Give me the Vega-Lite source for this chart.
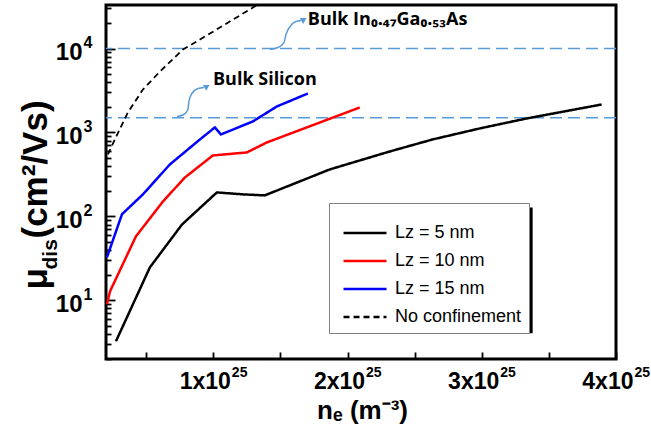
{
  "$schema": "https://vega.github.io/schema/vega-lite/v6.json",
  "width": 510,
  "height": 354,
  "autosize": {"type": "none"},
  "padding": {"left": 106, "top": 5, "right": 35, "bottom": 74},
  "background": "white",
  "config": {
    "view": {"stroke": "black", "strokeWidth": 3},
    "axis": {"grid": false, "domain": false, "tickColor": "black", "tickWidth": 1.8, "labelColor": "black", "titleColor": "black", "labelFont": "Liberation Sans", "titleFont": "Liberation Sans", "labelFontWeight": "bold", "titleFontWeight": "bold", "labelOverlap": false, "labelFlush": false, "labelBound": false}
  },
  "datasets": {
    "curves": [
      {"series": "Lz = 5 nm", "ne": 2.74e24, "mu": 3.25},
      {"series": "Lz = 5 nm", "ne": 5.27e24, "mu": 24.7},
      {"series": "Lz = 5 nm", "ne": 7.66e24, "mu": 80},
      {"series": "Lz = 5 nm", "ne": 1.026e25, "mu": 193},
      {"series": "Lz = 5 nm", "ne": 1.22e25, "mu": 183},
      {"series": "Lz = 5 nm", "ne": 1.383e25, "mu": 178},
      {"series": "Lz = 5 nm", "ne": 1.868e25, "mu": 363},
      {"series": "Lz = 5 nm", "ne": 2.315e25, "mu": 594},
      {"series": "Lz = 5 nm", "ne": 2.634e25, "mu": 826},
      {"series": "Lz = 5 nm", "ne": 2.985e25, "mu": 1117},
      {"series": "Lz = 5 nm", "ne": 3.334e25, "mu": 1468},
      {"series": "Lz = 5 nm", "ne": 3.893e25, "mu": 2155},
      {"series": "Lz = 10 nm", "ne": 2.07e24, "mu": 9.0},
      {"series": "Lz = 10 nm", "ne": 2.3e24, "mu": 12.8},
      {"series": "Lz = 10 nm", "ne": 4.23e24, "mu": 57.8},
      {"series": "Lz = 10 nm", "ne": 6.25e24, "mu": 151},
      {"series": "Lz = 10 nm", "ne": 7.88e24, "mu": 291},
      {"series": "Lz = 10 nm", "ne": 9.96e24, "mu": 532},
      {"series": "Lz = 10 nm", "ne": 1.249e25, "mu": 578},
      {"series": "Lz = 10 nm", "ne": 1.398e25, "mu": 760},
      {"series": "Lz = 10 nm", "ne": 2.091e25, "mu": 1985},
      {"series": "Lz = 15 nm", "ne": 2.07e24, "mu": 32.5},
      {"series": "Lz = 15 nm", "ne": 3.19e24, "mu": 106},
      {"series": "Lz = 15 nm", "ne": 4.75e24, "mu": 183},
      {"series": "Lz = 15 nm", "ne": 6.76e24, "mu": 416},
      {"series": "Lz = 15 nm", "ne": 9.0e24, "mu": 826},
      {"series": "Lz = 15 nm", "ne": 1.011e25, "mu": 1148},
      {"series": "Lz = 15 nm", "ne": 1.056e25, "mu": 947},
      {"series": "Lz = 15 nm", "ne": 1.294e25, "mu": 1352},
      {"series": "Lz = 15 nm", "ne": 1.473e25, "mu": 2040},
      {"series": "Lz = 15 nm", "ne": 1.704e25, "mu": 2911},
      {"series": "No confinement", "ne": 2.14e24, "mu": 547},
      {"series": "No confinement", "ne": 2.66e24, "mu": 826},
      {"series": "No confinement", "ne": 3.63e24, "mu": 1730},
      {"series": "No confinement", "ne": 4.75e24, "mu": 3250},
      {"series": "No confinement", "ne": 6.02e24, "mu": 5320},
      {"series": "No confinement", "ne": 7.73e24, "mu": 9730},
      {"series": "No confinement", "ne": 9.0e24, "mu": 12800},
      {"series": "No confinement", "ne": 1.146e25, "mu": 22100},
      {"series": "No confinement", "ne": 1.295e25, "mu": 30800},
      {"series": "No confinement", "ne": 1.42e25, "mu": 40500}
    ],
    "bulk": [
      {"material": "Bulk In0.47Ga0.53As", "mu": 10000},
      {"material": "Bulk Silicon", "mu": 1500}
    ],
    "arrows": [
      {"arrow": "Si", "ne": 7.29e24, "mu": 1550},
      {"arrow": "Si", "ne": 7.8e24, "mu": 1637},
      {"arrow": "Si", "ne": 8.1e24, "mu": 1879},
      {"arrow": "Si", "ne": 8.18e24, "mu": 2339},
      {"arrow": "Si", "ne": 8.4e24, "mu": 2911},
      {"arrow": "Si", "ne": 8.85e24, "mu": 3341},
      {"arrow": "Si", "ne": 9.3e24, "mu": 3435},
      {"arrow": "InGaAs", "ne": 1.421e25, "mu": 9730},
      {"arrow": "InGaAs", "ne": 1.481e25, "mu": 10280},
      {"arrow": "InGaAs", "ne": 1.526e25, "mu": 11780},
      {"arrow": "InGaAs", "ne": 1.541e25, "mu": 14690},
      {"arrow": "InGaAs", "ne": 1.571e25, "mu": 18270},
      {"arrow": "InGaAs", "ne": 1.615e25, "mu": 20960},
      {"arrow": "InGaAs", "ne": 1.653e25, "mu": 21540}
    ],
    "heads": [
      {"arrow": "Si", "ne": 9.53e24, "mu": 3530},
      {"arrow": "InGaAs", "ne": 1.675e25, "mu": 22130}
    ],
    "notes": [
      {"label": "Bulk Silicon", "ne": 9.97e24, "mu": 3726},
      {"label": "Bulk In₀.₄₇Ga₀.₅₃As", "ne": 1.704e25, "mu": 19300}
    ]
  },
  "layer": [
    {
      "data": {"name": "bulk"},
      "mark": {"type": "rule", "color": "#5B9BD5", "strokeWidth": 1.5, "strokeDash": [12, 6]},
      "encoding": {
        "y": {"field": "mu", "type": "quantitative", "scale": {"type": "log", "domain": [2, 33000], "nice": false},
          "axis": {"orient": "left", "values": [2,3,4,5,6,7,8,9,20,30,40,50,60,70,80,90,200,300,400,500,600,700,800,900,2000,3000,4000,5000,6000,7000,8000,9000,20000,30000], "tickSize": -5, "labels": false,
            "title": "dis", "titleFontSize": 21, "titleAngle": 270, "titleAlign": "left", "titleBaseline": "alphabetic", "titleX": -50, "titleY": 264}}
      }
    },
    {
      "data": {"values": [{}]},
      "mark": {"type": "rect", "color": "black"},
      "encoding": {
        "x": {"datum": 1.912e25, "type": "quantitative", "scale": {"type": "linear", "domain": [2e24, 4e25], "nice": false, "zero": false}, "axis": null},
        "x2": {"datum": 3.379e25},
        "y": {"datum": 128, "type": "quantitative", "scale": {"type": "log", "domain": [2, 33000], "nice": false}, "axis": null},
        "y2": {"datum": 4.05}
      }
    },
    {
      "data": {"name": "curves"},
      "transform": [{"filter": "datum.series != 'No confinement'"}],
      "mark": {"type": "line", "strokeWidth": 2.5, "clip": true},
      "encoding": {
        "x": {"field": "ne", "type": "quantitative", "scale": {"type": "linear", "domain": [2e24, 4e25], "nice": false, "zero": false},
          "axis": {"orient": "bottom", "values": [5e24, 1e25, 1.5e25, 2e25, 2.5e25, 3e25, 3.5e25, 4e25], "tickSize": -7,
            "labelExpr": "abs(datum.value/1e25 - round(datum.value/1e25)) < 0.01 ? format(datum.value/1e25, 'd') + 'x10' : ''",
            "labelAlign": "right", "labelOffset": 17, "labelBaseline": "alphabetic", "labelPadding": 36, "labelFontSize": 23,
            "title": "nₑ (m⁻³)", "titleFontSize": 26, "titleX": 256, "titleY": 59, "titleBaseline": "alphabetic", "titleAlign": "center"}},
        "y": {"field": "mu", "type": "quantitative", "scale": {"type": "log", "domain": [2, 33000], "nice": false},
          "axis": {"orient": "left", "values": [10, 100, 1000, 10000], "tickSize": -9, "labelExpr": "'10'", "labelAlign": "right", "labelBaseline": "middle", "labelOffset": 4, "labelPadding": 33, "labelFontSize": 24,
            "title": "μ", "titleFontSize": 35, "titleAngle": 270, "titleAlign": "left", "titleBaseline": "alphabetic", "titleX": -60, "titleY": 284}},
        "color": {"field": "series", "type": "nominal",
          "scale": {"domain": ["Lz = 5 nm", "Lz = 10 nm", "Lz = 15 nm", "No confinement"], "range": ["#000000", "#ff0000", "#0000ff", "#000000"]},
          "legend": {"title": " ", "orient": "none", "legendX": 223, "legendY": 198, "fillColor": "white", "strokeColor": "#808080", "padding": 7, "labelFont": "Liberation Sans", "labelFontSize": 18, "labelColor": "black", "symbolType": "stroke", "symbolSize": 1849, "symbolStrokeWidth": 2.5, "symbolOffset": 6, "labelOffset": 7, "clipHeight": 18, "rowPadding": 10, "titleFontSize": 8, "titlePadding": 6}},
        "strokeDash": {"field": "series", "type": "nominal",
          "scale": {"domain": ["Lz = 5 nm", "Lz = 10 nm", "Lz = 15 nm", "No confinement"], "range": [[1, 0], [1, 0], [1, 0], [6, 4]]},
          "legend": {"title": " ", "orient": "none", "legendX": 223, "legendY": 198, "fillColor": "white", "strokeColor": "#808080", "padding": 7, "labelFont": "Liberation Sans", "labelFontSize": 18, "labelColor": "black", "symbolType": "stroke", "symbolSize": 1849, "symbolStrokeWidth": 2.5, "symbolOffset": 6, "labelOffset": 7, "clipHeight": 18, "rowPadding": 10, "titleFontSize": 8, "titlePadding": 6}}
      }
    },
    {
      "data": {"name": "curves"},
      "transform": [{"filter": "datum.series == 'No confinement'"}],
      "mark": {"type": "line", "strokeWidth": 1.8, "clip": true},
      "encoding": {
        "x": {"field": "ne", "type": "quantitative", "scale": {"type": "linear", "domain": [2e24, 4e25], "nice": false, "zero": false}, "axis": null},
        "y": {"field": "mu", "type": "quantitative", "scale": {"type": "log", "domain": [2, 33000], "nice": false}, "axis": null},
        "color": {"field": "series", "type": "nominal",
          "scale": {"domain": ["Lz = 5 nm", "Lz = 10 nm", "Lz = 15 nm", "No confinement"], "range": ["#000000", "#ff0000", "#0000ff", "#000000"]},
          "legend": {"title": " ", "orient": "none", "legendX": 223, "legendY": 198, "fillColor": "white", "strokeColor": "#808080", "padding": 7, "labelFont": "Liberation Sans", "labelFontSize": 18, "labelColor": "black", "symbolType": "stroke", "symbolSize": 1849, "symbolStrokeWidth": 2.5, "symbolOffset": 6, "labelOffset": 7, "clipHeight": 18, "rowPadding": 10, "titleFontSize": 8, "titlePadding": 6}},
        "strokeDash": {"field": "series", "type": "nominal",
          "scale": {"domain": ["Lz = 5 nm", "Lz = 10 nm", "Lz = 15 nm", "No confinement"], "range": [[1, 0], [1, 0], [1, 0], [6, 4]]},
          "legend": {"title": " ", "orient": "none", "legendX": 223, "legendY": 198, "fillColor": "white", "strokeColor": "#808080", "padding": 7, "labelFont": "Liberation Sans", "labelFontSize": 18, "labelColor": "black", "symbolType": "stroke", "symbolSize": 1849, "symbolStrokeWidth": 2.5, "symbolOffset": 6, "labelOffset": 7, "clipHeight": 18, "rowPadding": 10, "titleFontSize": 8, "titlePadding": 6}}
      }
    },
    {
      "data": {"name": "arrows"},
      "mark": {"type": "line", "color": "#5B9BD5", "strokeWidth": 1.5, "interpolate": "monotone"},
      "encoding": {
        "x": {"field": "ne", "type": "quantitative", "scale": {"type": "linear", "domain": [2e24, 4e25], "nice": false, "zero": false}, "axis": null},
        "y": {"field": "mu", "type": "quantitative", "scale": {"type": "log", "domain": [2, 33000], "nice": false}, "axis": null},
        "detail": {"field": "arrow"}
      }
    },
    {
      "data": {"name": "heads"},
      "mark": {"type": "point", "shape": "triangle-right", "filled": true, "color": "#5B9BD5", "size": 45, "angle": -30, "opacity": 1},
      "encoding": {
        "x": {"field": "ne", "type": "quantitative", "scale": {"type": "linear", "domain": [2e24, 4e25], "nice": false, "zero": false}, "axis": null},
        "y": {"field": "mu", "type": "quantitative", "scale": {"type": "log", "domain": [2, 33000], "nice": false}, "axis": null}
      }
    },
    {
      "data": {"name": "notes"},
      "mark": {"type": "text", "font": "Open Sans", "fontWeight": "bold", "fontSize": 18, "align": "left", "baseline": "alphabetic", "color": "black"},
      "encoding": {
        "x": {"field": "ne", "type": "quantitative", "scale": {"type": "linear", "domain": [2e24, 4e25], "nice": false, "zero": false},
          "axis": {"orient": "bottom", "values": [1e25, 2e25, 3e25, 4e25], "ticks": false, "labelExpr": "'25'", "labelAlign": "left", "labelOffset": 18, "labelBaseline": "alphabetic", "labelPadding": 17, "labelFontSize": 14, "title": null}},
        "y": {"field": "mu", "type": "quantitative", "scale": {"type": "log", "domain": [2, 33000], "nice": false},
          "axis": {"orient": "left", "values": [10, 100, 1000, 10000], "ticks": false, "labelExpr": "datum.value == 10 ? '1' : datum.value == 100 ? '2' : datum.value == 1000 ? '3' : '4'", "labelAlign": "left", "labelBaseline": "middle", "labelOffset": -6, "labelPadding": 23, "labelFontSize": 16,
            "title": "(cm²/Vs)", "titleFontSize": 35, "titleAngle": 270, "titleAlign": "left", "titleBaseline": "alphabetic", "titleX": -60, "titleY": 233}},
        "text": {"field": "label"}
      }
    }
  ],
  "resolve": {"axis": {"x": "independent", "y": "independent"}}
}
